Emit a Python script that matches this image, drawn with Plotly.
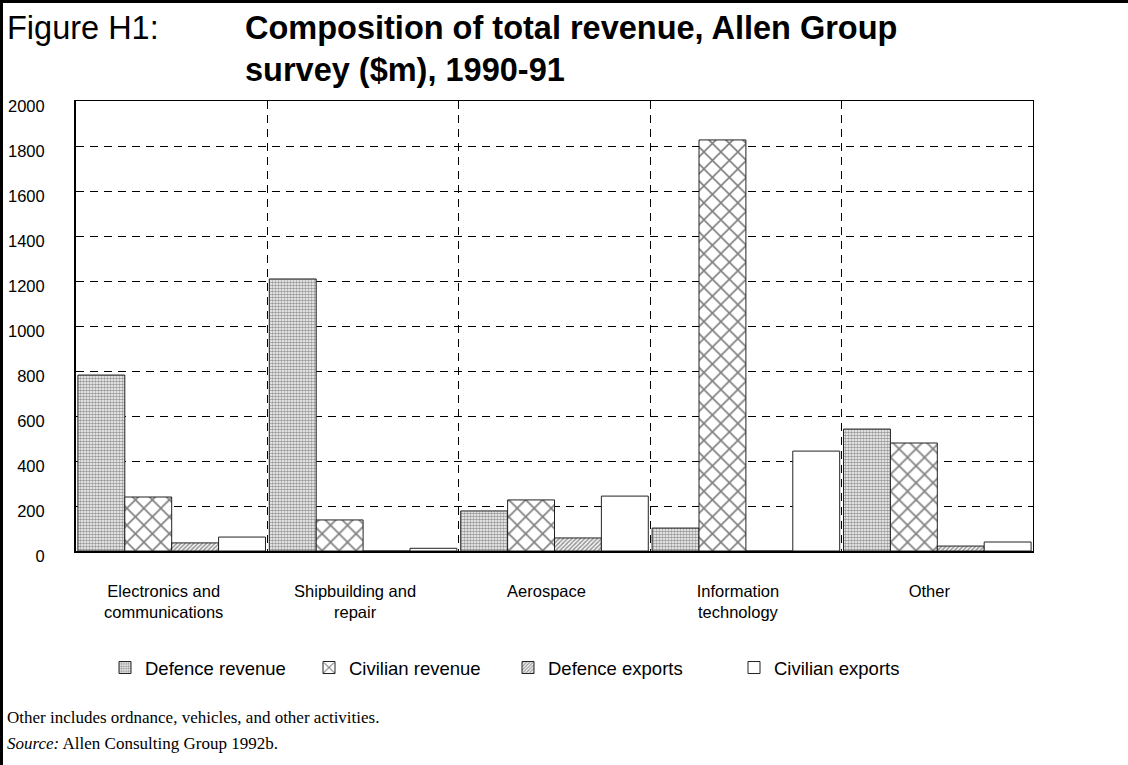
import plotly.graph_objects as go

# ---- data ----
categories = ["Electronics and<br>communications", "Shipbuilding and<br>repair",
              "Aerospace", "Information<br>technology", "Other"]
defence_revenue = [782, 1209, 178, 102, 542]
civilian_revenue = [240, 138, 227, 1827, 480]
defence_exports = [36, 0, 58, 0, 22]
civilian_exports = [62, 12, 244, 444, 40]
series_names = ["Defence revenue", "Civilian revenue", "Defence exports", "Civilian exports"]
y_ticks = [0, 200, 400, 600, 800, 1000, 1200, 1400, 1600, 1800, 2000]

# ---- layout constants ----
W, H = 1128, 765
L, R, T, B = 76, 95, 101, 214
PW, PH = W - L - R, H - T - B

def px_x(px):
    return (px - L) / PW

def px_y(py):
    return (H - B - py) / PH

x_pos = list(range(len(categories)))
boundaries = [i + 0.5 for i in x_pos[:-1]]

SANS = "Liberation Sans, Arial, sans-serif"
SERIF = "Liberation Serif, Times New Roman, serif"

patterns = [
    dict(shape=".", size=3, solidity=0.6, fgcolor="#333333", bgcolor="white"),
    dict(shape="x", size=12, solidity=0.25, fgcolor="black", bgcolor="white"),
    dict(shape="/", size=3, solidity=0.55, fgcolor="#333333", bgcolor="white"),
    dict(shape="", fgcolor="black", bgcolor="white"),
]
values = [defence_revenue, civilian_revenue, defence_exports, civilian_exports]
legend_ids = ["legend", "legend2", "legend3", "legend4"]
legend_text_px = [145, 349, 548, 774]

fig = go.Figure()
for name, vals, pat, lid in zip(series_names, values, patterns, legend_ids):
    fig.add_trace(go.Bar(
        x=x_pos, y=vals, name=name, legend=lid,
        marker=dict(color="white", pattern=pat,
                    line=dict(color="#222222", width=1)),
    ))

# invisible trace to activate the overlay axes (grid at category boundaries / frame)
fig.add_trace(go.Scatter(x=[x_pos[0]], y=[0], xaxis="x2", yaxis="y2",
                         mode="markers", marker=dict(opacity=0),
                         showlegend=False, hoverinfo="skip"))

legend_common = dict(orientation="h", yanchor="middle", xanchor="left",
                     bgcolor="rgba(0,0,0,0)", borderwidth=0,
                     font=dict(family=SANS, size=18.5, color="black"))
leg_y = px_y(668)
layout_legends = {}
for lid, tx in zip(legend_ids, legend_text_px):
    layout_legends[lid] = dict(legend_common, x=px_x(tx - 40), y=leg_y)

grid_dash = "8px,6px"

fig.update_layout(
    width=W, height=H,
    margin=dict(l=L, r=R, t=T, b=B, autoexpand=False),
    paper_bgcolor="white", plot_bgcolor="white",
    barmode="group", bargap=0.02, bargroupgap=0,
    font=dict(family=SANS, color="black"),
    xaxis=dict(
        range=[-0.5, len(categories) - 0.5],
        tickvals=x_pos, ticktext=categories,
        ticks="", showgrid=False, zeroline=False,
        showline=True, linecolor="black", linewidth=2,
        tickfont=dict(family=SANS, size=16.5, color="black"),
        ticklabelstandoff=24, ticklabelshift=-8,
    ),
    xaxis2=dict(
        overlaying="x", side="top", range=[-0.5, len(categories) - 0.5],
        tickvals=boundaries, showticklabels=False, ticks="",
        showgrid=True, gridcolor="black", gridwidth=1, griddash=grid_dash,
        showline=True, linecolor="black", linewidth=1, zeroline=False,
    ),
    yaxis=dict(
        range=[0, 2000], tickvals=y_ticks,
        showgrid=True, gridcolor="black", gridwidth=1, griddash=grid_dash,
        showline=True, linecolor="black", linewidth=2, zeroline=False,
        ticks="", tickfont=dict(family=SANS, size=16.5, color="black"),
        ticklabelstandoff=26, ticklabelshift=5,
    ),
    yaxis2=dict(
        overlaying="y", side="right", range=[0, 2000],
        showticklabels=False, ticks="", showgrid=False, zeroline=False,
        showline=True, linecolor="black", linewidth=1,
    ),
    **layout_legends,
)

# title
fig.add_annotation(text="Figure H1:", xref="paper", yref="paper",
                   x=px_x(5), y=px_y(8), xanchor="left", yanchor="top",
                   showarrow=False, align="left",
                   font=dict(family=SANS, size=32.5, color="black"))
fig.add_annotation(text="<b>Composition of total revenue, Allen Group<br>survey ($m), 1990-91</b>",
                   xref="paper", yref="paper",
                   x=px_x(243), y=px_y(8), xanchor="left", yanchor="top",
                   showarrow=False, align="left",
                   font=dict(family=SANS, size=32.5, color="black"))

# footer notes
fig.add_annotation(text="Other includes ordnance, vehicles, and other activities.",
                   xref="paper", yref="paper", x=px_x(5), y=px_y(717),
                   xanchor="left", yanchor="middle", showarrow=False,
                   font=dict(family=SERIF, size=17, color="black"))
fig.add_annotation(text="<i>Source:</i> Allen Consulting Group 1992b.",
                   xref="paper", yref="paper", x=px_x(5), y=px_y(743),
                   xanchor="left", yanchor="middle", showarrow=False,
                   font=dict(family=SERIF, size=17, color="black"))

# outer frame (left and top edges)
fig.add_shape(type="line", xref="paper", yref="paper",
              x0=px_x(1.5), x1=px_x(1.5), y0=px_y(0), y1=px_y(H),
              line=dict(color="black", width=3))
fig.add_shape(type="line", xref="paper", yref="paper",
              x0=px_x(0), x1=px_x(W), y0=px_y(1.5), y1=px_y(1.5),
              line=dict(color="black", width=3))

fig.write_html("out.html")
